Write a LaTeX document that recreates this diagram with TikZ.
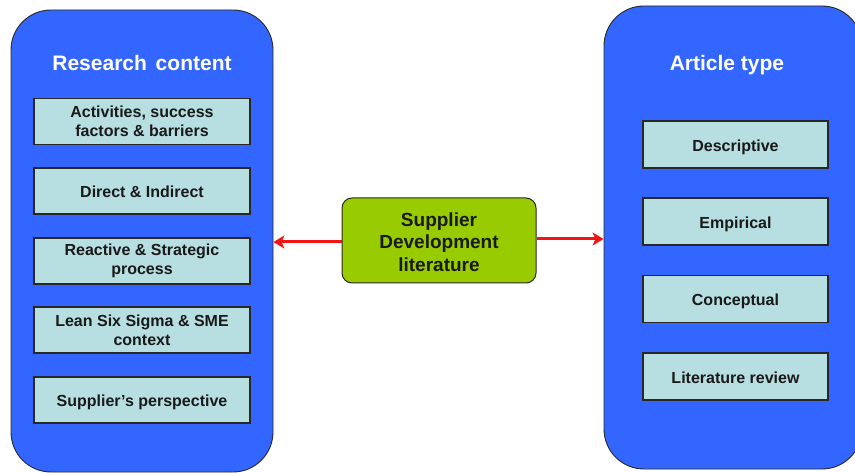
\documentclass[tikz,border=0pt]{standalone}
\usepackage{fontspec}
\setmainfont{Liberation Sans}
\usetikzlibrary{arrows.meta}
\definecolor{bigblue}{RGB}{51,102,255}
\definecolor{cyanbox}{RGB}{183,222,224}
\definecolor{greenbox}{RGB}{153,204,0}
\definecolor{arrowred}{RGB}{240,20,20}
\definecolor{edgegray}{RGB}{40,40,40}
\tikzset{
  bigbox/.style={draw=edgegray, line width=0.9pt, fill=bigblue, rounded corners=40pt, inner sep=0pt},
  titletext/.style={text=white, anchor=base, font=\bfseries\fontsize{21}{24}\selectfont},
  itembox/.style={draw=edgegray, line width=1.2pt, fill=cyanbox, inner sep=0pt, align=center,
    text=black!90, font=\bfseries\fontsize{16}{19}\selectfont},
  oneline/.style={text height=13.5pt, text depth=0pt},
  centerbox/.style={draw=edgegray, line width=1pt, fill=greenbox, rounded corners=10pt, inner sep=0pt,
    align=center, text=black!90, font=\bfseries\fontsize{19}{22.5}\selectfont,
    minimum width=194pt, minimum height=85pt},
  redarrow/.style={draw=arrowred, line width=3pt, -{Stealth[length=11pt,width=13pt,inset=3pt]}}
}
\begin{document}
\begin{tikzpicture}[x=1pt,y=-1pt]
\useasboundingbox (0,0) rectangle (855,473);
\begin{scope}
\clip (0,0) rectangle (855,473);
\node[bigbox, minimum width=262pt, minimum height=462pt] (leftbox) at (142,241) {};
\node[bigbox, minimum width=258pt, minimum height=463pt] (rightbox) at (733,237.5) {};
\end{scope}
\node[titletext] (lefttitle) at (142,70.5) {Research\hspace{3pt} content};
\node[titletext] (righttitle) at (727,70.5) {Article type};

\begin{scope}[every node/.append style={itembox, minimum width=216pt, minimum height=46pt}]
\node (l1) at (142,121.5) {Activities, success\\factors \& barriers};
\node[oneline] (l2) at (142,191) {Direct \& Indirect};
\node (l3) at (142,261) {Reactive \& Strategic\\process};
\node (l4) at (142,330) {Lean Six Sigma \& SME\\context};
\node[oneline] (l5) at (142,400) {Supplier’s perspective};
\end{scope}

\begin{scope}[every node/.append style={itembox, oneline, minimum width=185pt, minimum height=47pt}]
\node (r1) at (735.5,144.5) {Descriptive};
\node (r2) at (735.5,221.5) {Empirical};
\node (r3) at (735.5,299) {Conceptual};
\node (r4) at (735.5,376.5) {Literature review};
\end{scope}

\node[centerbox] (center) at (439,240.5) {\rule{0pt}{17pt}Supplier\\Development\\literature};

\draw[redarrow] ([yshift=-1.5pt]center.west) -- ([yshift=-1.5pt]center.west -| leftbox.east);
\draw[redarrow] ([yshift=1.5pt]center.east) -- ([yshift=1.5pt]center.east -| rightbox.west);
\end{tikzpicture}
\end{document}
